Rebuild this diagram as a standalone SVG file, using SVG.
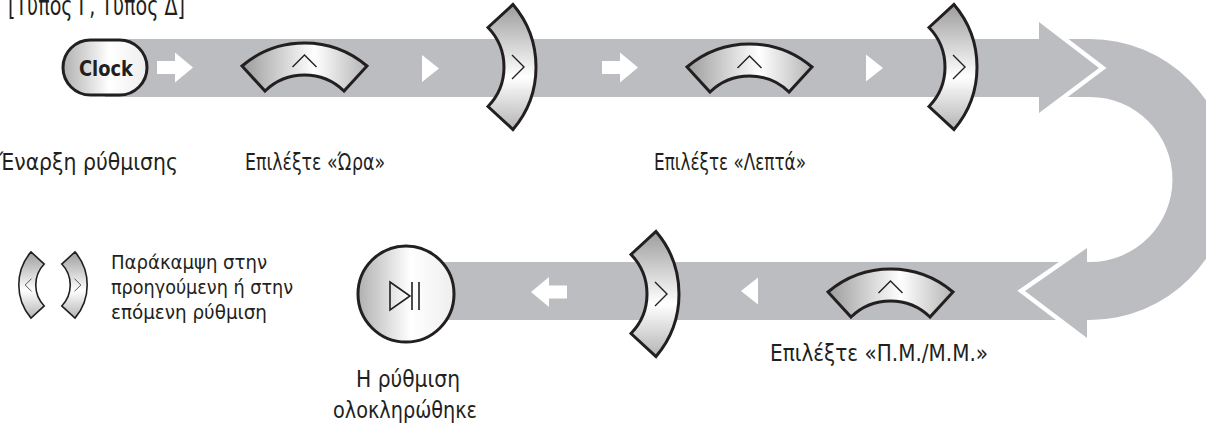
<svg xmlns="http://www.w3.org/2000/svg" xmlns:xlink="http://www.w3.org/1999/xlink" width="1206" height="424" viewBox="0 0 1206 424">
<style>
.band{fill:#bcbdc0}
.wline{fill:none;stroke:#fff;stroke-width:9;stroke-linejoin:miter;stroke-miterlimit:10}
.warrow{fill:#fff}
.btn{fill:url(#g1);stroke:#231f20;stroke-width:3;stroke-linejoin:miter;stroke-miterlimit:10}
.caret{fill:none;stroke:#231f20;stroke-width:1.4}
.lbl{font-family:"DejaVu Sans Condensed","DejaVu Sans",sans-serif;font-stretch:condensed;font-size:23px;fill:#231f20}
.small{font-size:20px}
</style>
<defs>
<linearGradient id="g1" x1="0" y1="0" x2="1" y2="0">
<stop offset="0" stop-color="#9c9c9c"/>
<stop offset="0.58" stop-color="#ffffff"/>
<stop offset="1" stop-color="#b4b4b4"/>
</linearGradient>
<linearGradient id="g2" x1="0" y1="0" x2="1" y2="0">
<stop offset="0" stop-color="#b0b0b0"/>
<stop offset="0.55" stop-color="#ffffff"/>
<stop offset="1" stop-color="#eeeeee"/>
</linearGradient>
<g id="arcBtn">
<path class="btn" d="M-62.5,0 A96.4,96.4 0 0 1 62.5,0 L39.5,25 A56.75,56.75 0 0 0 -39.5,25 Z"/>
<path class="caret" d="M-12,1 L0,-11 L12,1"/>
</g>
<path id="blockR" class="warrow" d="M0,-6.5 L18,-6.5 L18,-15 L36,0 L18,15 L18,6.5 L0,6.5 Z"/>
<path id="triR" class="warrow" d="M0,-13.5 L17,0 L0,13.5 Z"/>
</defs>

<text class="lbl" x="8" y="15" style="font-size:26px" textLength="177" lengthAdjust="spacingAndGlyphs">[Τύπος Γ, Τύπος Δ]</text>

<g id="connectors">
<path class="band" d="M1062,39 L1090,39 A140.5,140.5 0 0 1 1090,320 L1060,320 L1060,262 L1090,262 A82.5,82.5 0 0 0 1090,97 L1062,97 Z"/>
<rect class="band" x="406" y="262" width="684" height="58"/>
<polyline class="wline" points="1039,22 1099,68 1039,113"/>
<polygon class="band" points="105,39 1039,39 1039,22 1099,68 1039,113 1039,97 105,97"/>
<polyline class="wline" points="1087,248 1025,291 1087,338"/>
<polygon class="band" points="1087,248 1025,291 1087,338"/>
<use xlink:href="#blockR" href="#blockR" transform="translate(157,67.5)"/>
<use xlink:href="#triR" href="#triR" transform="translate(422,68.5)"/>
<use xlink:href="#blockR" href="#blockR" transform="translate(602,67.5)"/>
<use xlink:href="#triR" href="#triR" transform="translate(866,68)"/>
<use xlink:href="#triR" href="#triR" transform="translate(758,291) scale(-1,1)"/>
<use xlink:href="#blockR" href="#blockR" transform="translate(567,292) scale(-1,1)"/>
</g>

<g id="clock">
<rect x="63" y="40" width="84" height="55" rx="27.5" fill="url(#g2)" stroke="#231f20" stroke-width="3"/>
<text x="106" y="76" text-anchor="middle" textLength="54" lengthAdjust="spacingAndGlyphs" style="font-family:'DejaVu Sans Condensed','DejaVu Sans',sans-serif;font-stretch:condensed;font-weight:bold;font-size:22px;fill:#231f20">Clock</text>
</g>
<g id="up1"><use xlink:href="#arcBtn" href="#arcBtn" transform="translate(304.5,66)"/></g>
<g id="next1"><use xlink:href="#arcBtn" href="#arcBtn" transform="translate(513,67) rotate(90)"/></g>
<g id="up2"><use xlink:href="#arcBtn" href="#arcBtn" transform="translate(749.5,67)"/></g>
<g id="next2"><use xlink:href="#arcBtn" href="#arcBtn" transform="translate(954,67) rotate(90)"/></g>
<g id="up3"><use xlink:href="#arcBtn" href="#arcBtn" transform="translate(890.5,292)"/></g>
<g id="next3"><use xlink:href="#arcBtn" href="#arcBtn" transform="translate(656,294) rotate(90)"/></g>
<g id="done">
<circle cx="406" cy="294" r="48" fill="url(#g2)" stroke="#231f20" stroke-width="3"/>
<path d="M390,282 L410,296 L390,310 Z" fill="none" stroke="#231f20" stroke-width="1.6" stroke-linejoin="miter"/>
<line x1="412" y1="282" x2="412" y2="310" stroke="#231f20" stroke-width="1.6"/>
<line x1="419" y1="282" x2="419" y2="310" stroke="#231f20" stroke-width="1.6"/>
</g>

<g id="legend">
<use xlink:href="#arcBtn" href="#arcBtn" transform="translate(31,285) scale(-0.53,0.53) rotate(90)"/>
<use xlink:href="#arcBtn" href="#arcBtn" transform="translate(75,285) scale(0.53) rotate(90)"/>
<text class="lbl small" x="111" y="269" textLength="156" lengthAdjust="spacingAndGlyphs">Παράκαμψη στην</text>
<text class="lbl small" x="111" y="294" textLength="182" lengthAdjust="spacingAndGlyphs">προηγούμενη ή στην</text>
<text class="lbl small" x="111" y="319" textLength="156" lengthAdjust="spacingAndGlyphs">επόμενη ρύθμιση</text>
</g>

<g id="labels">
<text class="lbl" x="-1" y="170" textLength="179" lengthAdjust="spacingAndGlyphs">Έναρξη ρύθμισης</text>
<text class="lbl" x="245" y="170" textLength="140" lengthAdjust="spacingAndGlyphs">Επιλέξτε «Ώρα»</text>
<text class="lbl" x="654" y="170" textLength="152" lengthAdjust="spacingAndGlyphs">Επιλέξτε «Λεπτά»</text>
<text class="lbl" x="770" y="361" textLength="218" lengthAdjust="spacingAndGlyphs">Επιλέξτε «Π.Μ./Μ.Μ.»</text>
<text class="lbl" x="408" y="387" text-anchor="middle" textLength="104" lengthAdjust="spacingAndGlyphs">Η ρύθμιση</text>
<text class="lbl" x="405" y="418" text-anchor="middle" textLength="144" lengthAdjust="spacingAndGlyphs">ολοκληρώθηκε</text>
</g>
</svg>
